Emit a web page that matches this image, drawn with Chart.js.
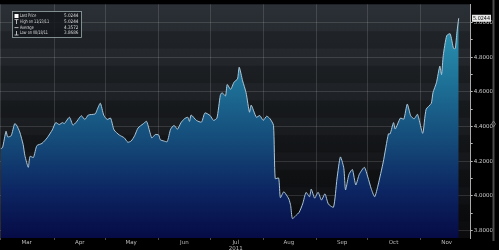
<!DOCTYPE html>
<html>
<head>
<meta charset="utf-8">
<script src="https://cdn.jsdelivr.net/npm/chart.js@4.4.0/dist/chart.umd.min.js"></script>
<style>
  html, body { margin:0; padding:0; background:#000; }
  #wrap { width:499px; height:250px; }
</style>
</head>
<body>
<div id="wrap"><canvas id="myChart" width="499" height="250"></canvas></div>
<script>
// days counted from 1 Mar 2011
const days = [0,1,3,4,6,8,9,11,13,14,16,17,19,21,24,27,30,32,34,36,37,40,42,44,46,47,49,51,55,56,58,60,62,64,66,69,72,74,76,78,80,83,85,88,90,92,93,95,97,99,101,103,105,107,109,110,111,114,117,119,122,124,126,128,129,131,132,134,136,138,139,141,143,145,146,149,151,153,155,157,159,160,162,163,165,167,168,169,170,172,174,176,178,180,181,183,185,187,189,191,194,196,198,200,201,203,205,207,209,212,214,216,218,220,223,226,227,229,230,233,235,237,239,241,243,246,248,251,252,254,256,257,258,260,262,264,265,266,267];
const prices = [4.272,4.278,4.372,4.340,4.346,4.415,4.410,4.368,4.295,4.232,4.164,4.227,4.221,4.289,4.302,4.334,4.380,4.422,4.411,4.422,4.416,4.453,4.408,4.425,4.453,4.462,4.440,4.466,4.472,4.493,4.534,4.465,4.440,4.448,4.380,4.351,4.334,4.309,4.316,4.346,4.391,4.415,4.429,4.334,4.353,4.351,4.323,4.316,4.312,4.384,4.406,4.384,4.421,4.444,4.453,4.429,4.466,4.435,4.425,4.478,4.463,4.435,4.448,4.580,4.595,4.576,4.642,4.614,4.656,4.674,4.742,4.663,4.595,4.482,4.523,4.453,4.463,4.435,4.459,4.444,4.406,4.099,4.102,3.989,4.023,3.997,3.980,3.943,3.8686,3.885,3.905,3.953,4.019,3.994,4.038,3.986,4.020,3.975,4.011,3.952,3.934,4.096,4.224,4.159,4.034,4.123,4.151,4.062,4.123,4.164,4.108,4.040,3.994,4.062,4.195,4.357,4.357,4.422,4.385,4.448,4.442,4.529,4.462,4.444,4.470,4.360,4.499,4.533,4.595,4.652,4.748,4.699,4.810,4.924,4.935,4.850,4.850,4.946,5.0244];

const monthStarts = [0,31,61,92,122,153,184,214,245];
const monthMids = [15,46,76,107,137,168,199,229,260];
const monthNames = ['Mar','Apr','May','Jun','Jul','Aug','Sep','Oct','Nov'];
const yTicks = [3.8,3.9,4.0,4.1,4.2,4.3,4.4,4.5,4.6,4.7,4.8,4.9,5.0];

const legendRows = [
  ['Last Price', '5.0244'],
  ['High on 11/23/11', '5.0244'],
  ['Average', '4.3572'],
  ['Low on 08/18/11', '3.8686']
];
const lastPrice = '5.0244';

function isMajor(v){ return Math.round(v*10) % 2 === 0; }

const backdrop = {
  id:'backdrop',
  beforeDraw(chart){
    const c = chart.ctx, a = chart.chartArea, ys = chart.scales.y;
    c.save();
    c.fillStyle = '#000';
    c.fillRect(0,0,chart.width,chart.height);
    var g = c.createLinearGradient(0,a.top,0,a.bottom);
    g.addColorStop(0,'#2b3036');
    g.addColorStop(0.45,'#1c1f23');
    g.addColorStop(1,'#0b0b0d');
    c.fillStyle = g;
    c.fillRect(a.left,a.top,a.right-a.left,a.bottom-a.top);
    // faint bands every 0.1
    for (var i=0;i<yTicks.length;i++){
      if (i%2===0) continue;
      var y1 = ys.getPixelForValue(yTicks[i]+0.05), y2 = ys.getPixelForValue(yTicks[i]-0.05);
      c.fillStyle = 'rgba(0,0,0,0.18)';
      c.fillRect(a.left,y1,a.right-a.left,y2-y1);
    }
    c.restore();
  },
  afterDraw(chart){
    const c = chart.ctx, ys = chart.scales.y;
    c.save();
    // scroll bar at right
    c.fillStyle = '#4a4a4a';
    c.fillRect(492.5,0,2,241);
    c.strokeStyle = '#888';
    c.lineWidth = 0.8;
    c.beginPath();
    c.moveTo(493.5,121); c.lineTo(495.5,124); c.lineTo(493.5,127); c.lineTo(491.5,124); c.closePath();
    c.stroke();
    // last price tag
    var py = ys.getPixelForValue(parseFloat(lastPrice));
    c.fillStyle = '#e6e6e6';
    c.fillRect(472,py-3.5,19,7);
    c.fillStyle = '#111';
    c.font = '5.5px "DejaVu Sans"';
    c.textBaseline = 'middle';
    c.fillText(lastPrice,473,py+0.3,17);
    // legend box
    c.fillStyle = 'rgba(20,24,28,0.85)';
    c.fillRect(12.5,11.5,69,26);
    c.strokeStyle = '#9aa';
    c.lineWidth = 0.8;
    c.strokeRect(12.5,11.5,69,26);
    c.font = '4.8px "DejaVu Sans"';
    c.fillStyle = '#ddd';
    for (var i=0;i<legendRows.length;i++){
      var ty = 16.2 + i*5.6;
      var w = c.measureText(legendRows[i][0]).width;
      c.textAlign = 'left';
      c.fillText(legendRows[i][0],20,ty,w*0.7);
      c.textAlign = 'right';
      c.fillText(legendRows[i][1],78.5,ty,14.5);
    }
    // legend symbols
    c.fillStyle = '#fff';
    c.fillRect(14.5,14,4,4);
    c.strokeStyle = '#ddd';
    c.lineWidth = 0.8;
    c.beginPath();
    c.moveTo(14.5,19.6); c.lineTo(18.5,19.6); c.moveTo(16.5,19.6); c.lineTo(16.5,24);
    c.moveTo(14.5,27.6); c.lineTo(18.5,27.6);
    c.moveTo(16.5,31); c.lineTo(16.5,35); c.moveTo(14.5,35); c.lineTo(18.5,35);
    c.stroke();
    c.restore();
  }
};

const ctx = document.querySelector('#myChart');
var myChart = new Chart(ctx, {
  type:'line',
  data:{
    datasets:[{
      label:'Last Price',
      data: days.map((d,i) => ({x:d, y:prices[i]})),
      borderColor:'#adc6d6',
      borderWidth:1,
      pointRadius:0,
      tension:0.2,
      fill:'start',
      backgroundColor:function(context){
        const a = context.chart.chartArea;
        if (!a) return '#1a6088';
        var g = context.chart.ctx.createLinearGradient(0,a.top,0,a.bottom);
        g.addColorStop(0,'#30a2bd');
        g.addColorStop(0.35,'#1d6f96');
        g.addColorStop(0.6,'#144877');
        g.addColorStop(0.8,'#0c2562');
        g.addColorStop(1,'#060b45');
        return g;
      }
    }]
  },
  options:{
    responsive:false,
    animation:false,
    layout:{ padding:0 },
    plugins:{ legend:{display:false}, tooltip:{enabled:false} },
    scales:{
      x:{
        type:'linear',
        min:-0.5, max:274,
        z:1,
        afterBuildTicks:function(s){
          s.ticks = monthStarts.concat(monthMids).sort((p,q)=>p-q).map(v => ({value:v}));
        },
        afterFit:function(s){ s.height = 12; },
        grid:{
          color:function(c){ return monthStarts.indexOf(c.tick.value) >= 0 ? 'rgba(255,255,255,0.13)' : 'rgba(0,0,0,0)'; },
          tickColor:function(c){ return monthStarts.indexOf(c.tick.value) >= 0 ? 'rgba(255,255,255,0.3)' : 'rgba(0,0,0,0)'; },
          tickLength:2,
          lineWidth:1
        },
        border:{ display:false },
        ticks:{
          autoSkip:false,
          maxRotation:0,
          padding:0,
          color:'#bbb',
          font:{ family:'DejaVu Sans', size:5.5, lineHeight:1.1 },
          callback:function(v){
            var k = monthMids.indexOf(v);
            if (k < 0) return '';
            return monthNames[k] === 'Jul' ? ['Jul','2011'] : monthNames[k];
          }
        }
      },
      y:{
        position:'right',
        min:3.756, max:5.105,
        z:1,
        afterBuildTicks:function(s){ s.ticks = yTicks.map(v => ({value:v})); },
        afterFit:function(s){ s.width = 28.3; },
        grid:{
          color:function(c){ return isMajor(c.tick.value) ? 'rgba(255,255,255,0.13)' : 'rgba(0,0,0,0)'; },
          tickColor:'#bbb',
          tickLength:2
        },
        border:{ display:true, color:'#aaa', width:1 },
        ticks:{
          padding:1,
          color:'#ccc',
          font:{ family:'DejaVu Sans', size:5.5 },
          callback:function(v){ return isMajor(v) ? v.toFixed(4) : ''; }
        }
      }
    }
  },
  plugins:[backdrop]
});
</script>
</body>
</html>
